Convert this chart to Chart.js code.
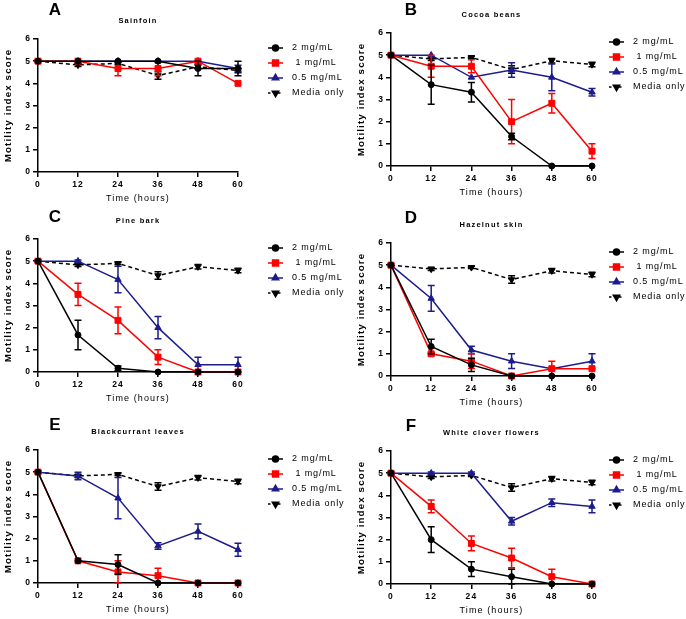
<!DOCTYPE html>
<html><head><meta charset="utf-8">
<script src="https://cdn.jsdelivr.net/npm/chart.js@4.4.1/dist/chart.umd.min.js"></script>
<style>
html,body{margin:0;padding:0;background:#fff;overflow:hidden;width:686px;height:619px;}
.panel{position:absolute;height:205px;}
.lc{width:360px;}
.rc{width:343px;}
canvas{display:block;}
</style></head><body>
<div class="panel lc" style="left:0;top:0"><canvas id="c0" width="360" height="205"></canvas></div>
<div class="panel rc" style="left:343px;top:-6px"><canvas id="c1" width="343" height="205"></canvas></div>
<div class="panel lc" style="left:0;top:200px"><canvas id="c2" width="360" height="205"></canvas></div>
<div class="panel rc" style="left:343px;top:204px"><canvas id="c3" width="343" height="205"></canvas></div>
<div class="panel lc" style="left:0;top:411px"><canvas id="c4" width="360" height="205"></canvas></div>
<div class="panel rc" style="left:343px;top:412px"><canvas id="c5" width="343" height="205"></canvas></div>
<script>
// ---------- data ----------
const times = [0, 12, 24, 36, 48, 60];
const xTicks = [0, 12, 24, 36, 48, 60];
const yTicks = [0, 1, 2, 3, 4, 5, 6];
const seriesLabels = ['2 mg/mL', ' 1 mg/mL', '0.5 mg/mL', 'Media only'];
const panelLetters = ['A', 'B', 'C', 'D', 'E', 'F'];
const panelTitles = ['Sainfoin', 'Cocoa beans', 'Pine bark', 'Hazelnut skin', 'Blackcurrant leaves', 'White clover flowers'];
const xTitle = 'Time (hours)';
const yTitle = 'Motility index score';

const mediaOnly    = [5, 4.83, 4.9, 4.35, 4.75, 4.58];
const mediaOnlyErr = [0, 0.07, 0.05, 0.17, 0.1, 0.1];

const sainfoin2     = [5, 5, 5, 5, 4.67, 4.67];
const sainfoin2Err  = [0, 0, 0, 0, 0.33, 0.33];
const sainfoin1     = [5, 5, 4.67, 4.67, 5, 4];
const sainfoin1Err  = [0, 0, 0.33, 0.33, 0, 0];
const sainfoin05    = [5, 5, 5, 5, 5, 4.67];
const sainfoin05Err = [0, 0, 0, 0, 0, 0.15];

const cocoa2     = [5, 3.67, 3.33, 1.33, 0, 0];
const cocoa2Err  = [0, 0.88, 0.44, 0.15, 0, 0];
const cocoa1     = [5, 4.5, 4.5, 2, 2.83, 0.67];
const cocoa1Err  = [0, 0.5, 0.29, 1.0, 0.44, 0.33];
const cocoa05    = [5, 5, 4, 4.33, 4, 3.33];
const cocoa05Err = [0, 0, 0, 0.33, 0.6, 0.17];

const pine2     = [5, 1.67, 0.17, 0, 0, 0];
const pine2Err  = [0, 0.67, 0.1, 0, 0, 0];
const pine1     = [5, 3.5, 2.33, 0.67, 0, 0];
const pine1Err  = [0, 0.5, 0.6, 0.33, 0, 0];
const pine05    = [5, 5, 4.17, 2, 0.33, 0.33];
const pine05Err = [0, 0.05, 0.6, 0.5, 0.33, 0.33];

const hazel2     = [5, 1.33, 0.5, 0, 0, 0];
const hazel2Err  = [0, 0.33, 0.3, 0, 0, 0];
const hazel1     = [5, 1, 0.67, 0, 0.33, 0.33];
const hazel1Err  = [0, 0.05, 0.33, 0, 0.33, 0];
const hazel05    = [5, 3.5, 1.17, 0.67, 0.33, 0.67];
const hazel05Err = [0, 0.58, 0.17, 0.33, 0, 0.33];

const blackc2     = [5, 1, 0.83, 0, 0, 0];
const blackc2Err  = [0, 0, 0.44, 0, 0, 0];
const blackc1     = [5, 1, 0.5, 0.33, 0, 0];
const blackc1Err  = [0, 0, 0.5, 0.33, 0, 0];
const blackc05    = [5, 4.83, 3.83, 1.67, 2.33, 1.5];
const blackc05Err = [0, 0.17, 0.93, 0.15, 0.33, 0.29];

const clover2     = [5, 2, 0.67, 0.33, 0, 0];
const clover2Err  = [0, 0.58, 0.33, 0.33, 0, 0];
const clover1     = [5, 3.5, 1.83, 1.17, 0.33, 0];
const clover1Err  = [0, 0.29, 0.33, 0.44, 0.33, 0];
const clover05    = [5, 5, 5, 2.83, 3.67, 3.5];
const clover05Err = [0, 0.05, 0.05, 0.17, 0.17, 0.29];

const panelSeries = [
  [[sainfoin2, sainfoin2Err], [sainfoin1, sainfoin1Err], [sainfoin05, sainfoin05Err], [mediaOnly, mediaOnlyErr]],
  [[cocoa2, cocoa2Err], [cocoa1, cocoa1Err], [cocoa05, cocoa05Err], [mediaOnly, mediaOnlyErr]],
  [[pine2, pine2Err], [pine1, pine1Err], [pine05, pine05Err], [mediaOnly, mediaOnlyErr]],
  [[hazel2, hazel2Err], [hazel1, hazel1Err], [hazel05, hazel05Err], [mediaOnly, mediaOnlyErr]],
  [[blackc2, blackc2Err], [blackc1, blackc1Err], [blackc05, blackc05Err], [mediaOnly, mediaOnlyErr]],
  [[clover2, clover2Err], [clover1, clover1Err], [clover05, clover05Err], [mediaOnly, mediaOnlyErr]]
];

// ---------- styles ----------
const FONT = "'Liberation Sans', Arial, Helvetica, sans-serif";
const seriesStyles = [
  {color: '#000000', pointStyle: 'circle', radius: 3, rotation: 0, dash: []},
  {color: '#ff0000', pointStyle: 'rect', radius: 4.2, rotation: 0, dash: []},
  {color: '#1c1c8c', pointStyle: 'triangle', radius: 3.7, rotation: 0, dash: []},
  {color: '#000000', pointStyle: 'triangle', radius: 3.7, rotation: 180, dash: [4, 3]}
];
const panelLayout = [
  {left: true,  letterY: 10},
  {left: false, letterY: 16},
  {left: true,  letterY: 17},
  {left: false, letterY: 14},
  {left: true,  letterY: 14},
  {left: false, letterY: 14}
];

Chart.defaults.font.family = FONT;
Chart.defaults.color = '#000';

const spacingPlugin = {
  id: 'spacing',
  beforeDraw(chart) { chart.ctx.letterSpacing = '1.1px'; }
};

const errorBars = {
  id: 'errorBars',
  afterDatasetDraw(chart, args) {
    const ds = chart.data.datasets[args.index];
    if (!ds.errors) return;
    const ctx = chart.ctx, xs = chart.scales.x, ys = chart.scales.y;
    ctx.save();
    ctx.strokeStyle = ds.borderColor;
    ctx.lineWidth = 1.5;
    ctx.setLineDash([]);
    ds.data.forEach((p, i) => {
      const e = ds.errors[i];
      if (!e) return;
      const x = xs.getPixelForValue(p.x);
      const yt = ys.getPixelForValue(p.y + e);
      const yb = ys.getPixelForValue(p.y - e);
      ctx.beginPath();
      ctx.moveTo(x, yt); ctx.lineTo(x, yb);
      ctx.moveTo(x - 3.5, yt); ctx.lineTo(x + 3.5, yt);
      ctx.moveTo(x - 3.5, yb); ctx.lineTo(x + 3.5, yb);
      ctx.stroke();
    });
    ctx.restore();
  }
};

const panelText = {
  id: 'panelText',
  afterDraw(chart, args, opts) {
    const ctx = chart.ctx, ca = chart.chartArea;
    ctx.save();
    ctx.fillStyle = '#000';
    ctx.textBaseline = 'middle';
    // panel letter
    ctx.letterSpacing = '0px';
    ctx.font = 'bold 17px ' + FONT;
    ctx.textAlign = 'center';
    ctx.fillText(opts.letter, ca.left + opts.letterDX, opts.letterY);
    // panel title
    ctx.letterSpacing = '1.2px';
    ctx.font = 'bold 7.5px ' + FONT;
    ctx.fillText(opts.title, (ca.left + ca.right) / 2, ca.top - 18);
    // legend
    ctx.textAlign = 'left';
    ctx.font = '9px ' + FONT;
    ctx.letterSpacing = '0.9px';
    chart.data.datasets.forEach((ds, i) => {
      const y = ca.top + 9 + i * 15;
      const x0 = opts.legendX, x1 = opts.legendX + 11;
      ctx.strokeStyle = ds.borderColor;
      ctx.fillStyle = ds.borderColor;
      ctx.lineWidth = 1.5;
      ctx.setLineDash(ds.borderDash && ds.borderDash.length ? [2.5, 2.5] : []);
      ctx.beginPath();
      ctx.moveTo(x0 - 2, y); ctx.lineTo(x1 + 2, y);
      ctx.stroke();
      ctx.setLineDash([]);
      Chart.helpers.drawPoint(ctx, {pointStyle: ds.pointStyle, radius: ds.pointRadius, rotation: ds.pointRotation, borderWidth: 1}, (x0 + x1) / 2, y);
      ctx.fillStyle = '#000';
      ctx.fillText(ds.label, opts.legendX + 22, y);
    });
    ctx.restore();
  }
};

function makeChart(idx) {
  const lay = panelLayout[idx];
  const yw = lay.left ? 38 : 48;
  const padRight = lay.left ? 122 : 94;
  const datasets = panelSeries[idx].map((s, k) => {
    const st = seriesStyles[k];
    return {
      label: seriesLabels[k],
      data: times.map((t, i) => ({x: t, y: s[0][i]})),
      errors: s[1],
      borderColor: st.color,
      backgroundColor: st.color,
      pointBackgroundColor: st.color,
      pointBorderColor: st.color,
      pointStyle: st.pointStyle,
      pointRadius: st.radius,
      pointRotation: st.rotation,
      pointBorderWidth: 1,
      borderWidth: 1.5,
      borderDash: st.dash,
      tension: 0,
      clip: false,
      fill: false
    };
  });
  new Chart(document.getElementById('c' + idx), {
    type: 'line',
    data: {datasets},
    plugins: [spacingPlugin, errorBars, panelText],
    options: {
      responsive: false,
      animation: false,
      events: [],
      layout: {padding: {left: 0, top: 39, right: padRight, bottom: 0}},
      plugins: {
        legend: {display: false},
        tooltip: {enabled: false},
        title: {display: false},
        panelText: {
          letter: panelLetters[idx],
          title: panelTitles[idx],
          letterDX: lay.left ? 17 : 20,
          letterY: lay.letterY,
          legendX: lay.left ? 270 : 268
        }
      },
      scales: {
        x: {
          type: 'linear', min: 0, max: 60,
          afterFit(scale) { scale.height = 33; },
          afterBuildTicks(scale) { scale.ticks = xTicks.map(v => ({value: v})); },
          grid: {drawOnChartArea: false, drawTicks: true, tickLength: 5, color: '#000', lineWidth: 1.5},
          border: {color: '#000', width: 1.5},
          ticks: {font: {size: 8.5, weight: 'bold'}, color: '#000', padding: 3, maxRotation: 0, autoSkip: false},
          title: {display: true, text: xTitle, font: {size: 9}, color: '#000', padding: {top: 0, bottom: 1}}
        },
        y: {
          type: 'linear', min: 0, max: 6,
          afterFit(scale) { scale.width = yw; },
          afterBuildTicks(scale) { scale.ticks = yTicks.map(v => ({value: v})); },
          grid: {drawOnChartArea: false, drawTicks: true, tickLength: 5, color: '#000', lineWidth: 1.5},
          border: {color: '#000', width: 1.5},
          ticks: {font: {size: 8.5, weight: 'bold'}, color: '#000', padding: 2, autoSkip: false},
          title: {display: true, text: yTitle, font: {size: 9.8, weight: 'bold'}, color: '#000', padding: {top: lay.left ? 2.3 : 12.3, bottom: 0}}
        }
      }
    }
  });
}
for (let i = 0; i < 6; i++) makeChart(i);
</script>
</body></html>
